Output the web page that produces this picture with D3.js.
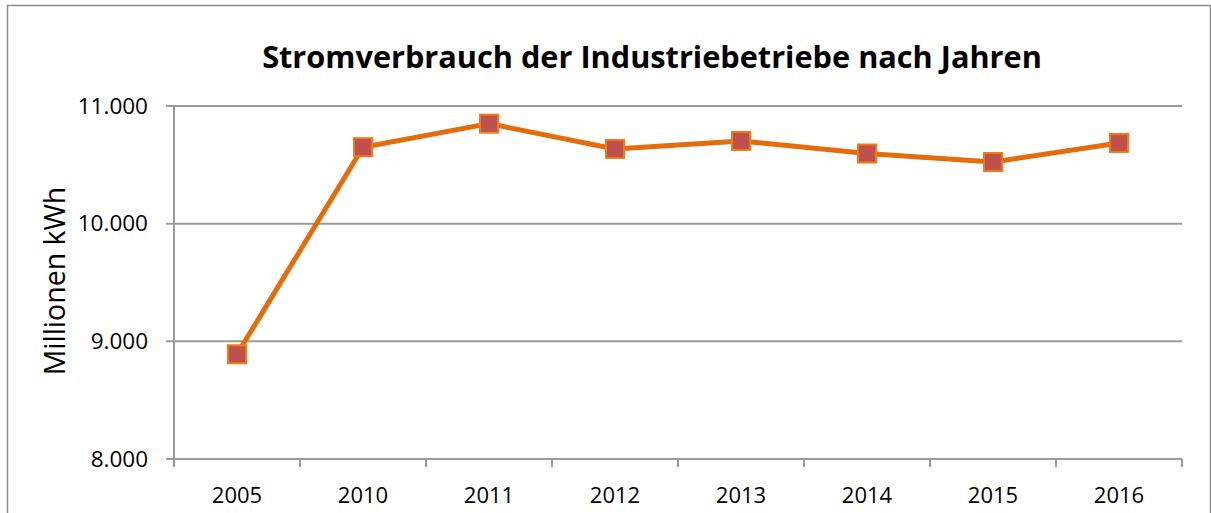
<!DOCTYPE html>
<html>
<head>
<meta charset="utf-8">
<script src="https://cdn.jsdelivr.net/npm/d3@7"></script>
<style>
  body { margin: 0; background: #fff; }
  text { font-family: "Open Sans", "DejaVu Sans", sans-serif; }
</style>
</head>
<body>
<svg id="chart"></svg>
<script>
// data
const years = ['2005', '2010', '2011', '2012', '2013', '2014', '2015', '2016']
const verbrauch = [8890, 10650, 10850, 10635, 10703, 10596, 10524, 10686]
const yTicks = [8000, 9000, 10000, 11000]

const width = 1211
const height = 513
const m = { left: 174, right: 1182, top: 106, bottom: 459 }

let svg = d3.select('#chart')
  .attr('width', width)
  .attr('height', height)

// outer chart frame
svg.append('rect')
  .attr('x', 7.5).attr('y', 5.5)
  .attr('width', width - 8).attr('height', height)
  .attr('fill', 'none')
  .attr('stroke', '#8c8c8c')
  .attr('stroke-width', 1.5)

const xScale = d3.scaleBand()
  .domain(years)
  .range([m.left, m.right])

const yScale = d3.scaleLinear()
  .domain([8000, 11000])
  .range([m.bottom, m.top])

const fmt = d => d3.format(',')(d).replace(/,/g, '.')

// horizontal grid lines
svg.append('g')
  .selectAll('line')
  .data(yTicks)
  .enter()
  .append('line')
  .attr('x1', m.left - 8)
  .attr('x2', m.right)
  .attr('y1', d => yScale(d))
  .attr('y2', d => yScale(d))
  .attr('stroke', '#9a9a9a')
  .attr('stroke-width', 2)

// y axis labels
svg.append('g')
  .selectAll('text')
  .data(yTicks)
  .enter()
  .append('text')
  .attr('x', 148)
  .attr('y', d => yScale(d) + 7.5)
  .attr('text-anchor', 'end')
  .attr('font-size', 22.5)
  .attr('fill', '#000')
  .text(fmt)

// y axis line
svg.append('line')
  .attr('x1', m.left).attr('x2', m.left)
  .attr('y1', m.top).attr('y2', m.bottom)
  .attr('stroke', '#9a9a9a')
  .attr('stroke-width', 2)

// x axis ticks at band edges
const edges = years.map(y => xScale(y)).concat([m.right])
svg.append('g')
  .selectAll('line')
  .data(edges)
  .enter()
  .append('line')
  .attr('x1', d => d).attr('x2', d => d)
  .attr('y1', m.bottom).attr('y2', m.bottom + 8)
  .attr('stroke', '#9a9a9a')
  .attr('stroke-width', 2)

svg.append('g')
  .selectAll('text')
  .data(years)
  .enter()
  .append('text')
  .attr('x', d => xScale(d) + xScale.bandwidth() / 2)
  .attr('y', 503)
  .attr('text-anchor', 'middle')
  .attr('font-size', 22)
  .attr('fill', '#000')
  .text(d => d)

// axis title
svg.append('text')
  .attr('transform', 'translate(65, 281) rotate(-90)')
  .attr('text-anchor', 'middle')
  .attr('font-family', '"Liberation Sans", Arial, sans-serif')
  .attr('font-size', 28.5)
  .attr('fill', '#000')
  .text('Millionen kWh')

// chart title
svg.append('text')
  .attr('x', 652)
  .attr('y', 68)
  .attr('text-anchor', 'middle')
  .attr('font-size', 30.7)
  .attr('font-weight', 'bold')
  .attr('fill', '#000')
  .text('Stromverbrauch der Industriebetriebe nach Jahren')

const pts = years.map((y, i) => ({ year: y, value: verbrauch[i] }))

const line = d3.line()
  .x(d => xScale(d.year) + xScale.bandwidth() / 2)
  .y(d => yScale(d.value))

svg.append('path')
  .datum(pts)
  .attr('d', line)
  .attr('fill', 'none')
  .attr('stroke', '#e46c0a')
  .attr('stroke-width', 5)
  .attr('stroke-linejoin', 'round')

const s = 18
svg.selectAll('rect.marker')
  .data(pts)
  .enter()
  .append('rect')
  .attr('class', 'marker')
  .attr('x', d => xScale(d.year) + xScale.bandwidth() / 2 - s / 2)
  .attr('y', d => yScale(d.value) - s / 2)
  .attr('width', s)
  .attr('height', s)
  .attr('fill', '#c0504d')
  .attr('stroke', '#ee7b13')
  .attr('stroke-width', 2)
</script>
</body>
</html>
